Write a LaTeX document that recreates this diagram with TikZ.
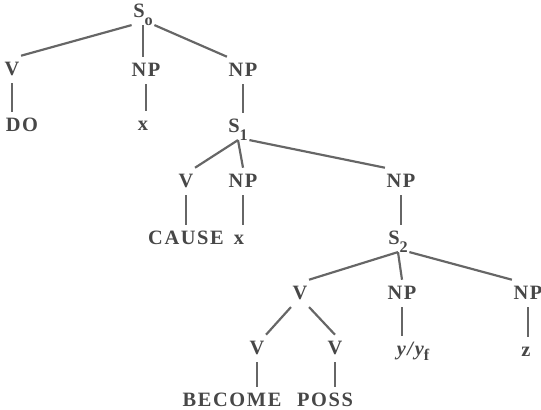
\documentclass[tikz,border=0pt]{standalone}
\usepackage{fontspec}
\setmainfont{Liberation Serif}
\newfontfamily\catfamily{Liberation Serif}[LetterSpace=8]
\newcommand{\catfont}{\catfamily\bfseries\fontsize{14.5pt}{17pt}\selectfont}
% lowered, nearly full-size index
\newcommand{\catsub}[2][5pt]{\raisebox{-#1}{\fontsize{11.5pt}{12pt}\selectfont #2}}
\definecolor{ink}{HTML}{474747}
\definecolor{wire}{HTML}{666666}
\tikzset{
  cat/.style={font=\catfont, text=ink, anchor=base, inner xsep=1pt, inner ysep=0.17cm,
              text height=0.33cm, text depth=0pt},
  branch/.style={draw=wire, line width=1.55pt}
}

\begin{document}
\begin{tikzpicture}
\useasboundingbox (0,0) rectangle (13.525,-10.25);

% S_o and its daughters
\node[cat] (s0) at (3.575,-0.45) {S\catsub[5.5pt]{o}};
\node[cat] (v1) at (0.30,-1.90) {V};
\node[cat] (np1) at (3.65,-1.925) {NP};
\node[cat] (np2) at (6.075,-1.925) {NP};
\node[cat] (do) at (0.55,-3.30) {DO};
\node[cat] (x1) at (3.575,-3.275) {x};
\node[cat] (s1) at (5.95,-3.325) {S\catsub{1}};

% S_1
\node[cat] (v2) at (4.65,-4.70) {V};
\node[cat] (np3) at (6.075,-4.70) {NP};
\node[cat] (np4) at (10.025,-4.70) {NP};
\node[cat] (cause) at (4.65,-6.125) {CAUSE};
\node[cat] (x2) at (5.975,-6.125) {x};
\node[cat] (s2) at (9.95,-6.125) {S\catsub{2}};

% S_2
\node[cat] (v3) at (7.50,-7.50) {V};
\node[cat] (np5) at (10.05,-7.50) {NP};
\node[cat] (np6) at (13.20,-7.50) {NP};
\node[cat] (v4) at (6.425,-8.875) {V};
\node[cat] (v5) at (8.375,-8.875) {V};
\node[cat] (yy) at (10.325,-8.90) {\itshape y/y\catsub[3.5pt]{\upshape f}};
\node[cat] (z) at (13.15,-8.925) {z};
\node[cat] (become) at (5.80,-10.175) {BECOME};
\node[cat] (poss) at (8.125,-10.175) {POSS};

% branches
\draw[branch] (s0.south west) -- (v1.north east);
\draw[branch] (s0.south) -- (s0.south |- np1.north);
\draw[branch] (s0.south east) -- (np2.north west);
\draw[branch] (v1.south) -- (v1.south |- do.north);
\draw[branch] (np1.south) -- (np1.south |- x1.north);
\draw[branch] (np2.south) -- (np2.south |- s1.north);

\draw[branch] (s1.south) -- (v2.north east);
\draw[branch] (s1.south) -- (np3.north);
\draw[branch] (s1.south east) -- (np4.north west);
\draw[branch] (v2.south) -- (v2.south |- cause.north);
\draw[branch] (np3.south) -- (np3.south |- x2.north);
\draw[branch] (np4.south) -- (np4.south |- s2.north);

\draw[branch] (s2.south) -- (v3.north east);
\draw[branch] (s2.south) -- (np5.north);
\draw[branch] (s2.south east) -- (np6.north west);
\draw[branch] (v3.south west) -- (v4.north east);
\draw[branch] (v3.south east) -- (v5.north);
\draw[branch] (np5.south) -- (np5.south |- yy.north);
\draw[branch] (np6.south) -- (np6.south |- z.north);
\draw[branch] (v4.south) -- (v4.south |- become.north);
\draw[branch] (v5.south) -- (v5.south |- poss.north);
\end{tikzpicture}
\end{document}
